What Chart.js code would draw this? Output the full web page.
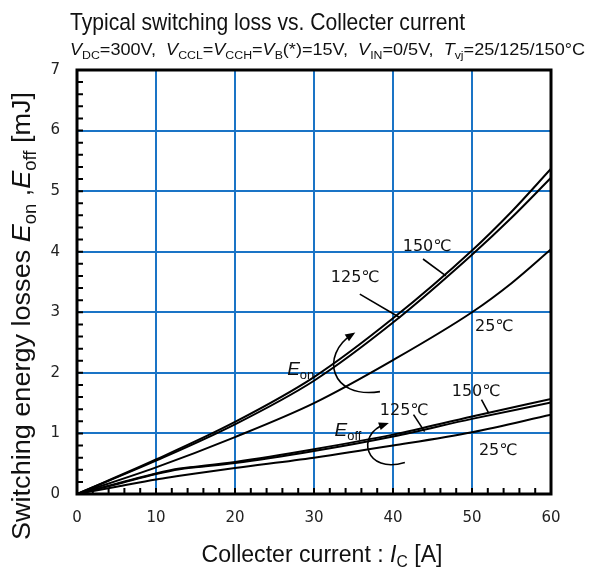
<!DOCTYPE html>
<html>
<head>
<meta charset="utf-8">
<script src="https://cdn.jsdelivr.net/npm/chart.js@4.4.1/dist/chart.umd.min.js"></script>
<style>
  html, body { margin: 0; padding: 0; background: #fff; }
  #wrap { width: 598px; height: 571px; }
</style>
</head>
<body>
<div id="wrap"><canvas id="myChart" width="598" height="571"></canvas></div>
<script>
// collector current [A] and switching energy [mJ]
const eonCurrent = [0, 10, 20, 30, 40, 50, 55, 60];
const eon150 = [0, 0.57, 1.19, 1.93, 2.90, 4.02, 4.66, 5.37];
const eon125 = [0, 0.55, 1.15, 1.87, 2.83, 3.95, 4.56, 5.22];
const eon25  = [0, 0.44, 0.94, 1.50, 2.21, 3.00, 3.48, 4.04];

const eoffCurrent = [0, 5, 10, 13, 15, 20, 30, 40, 50, 60];
const eoff150 = [0, 0.17, 0.34, 0.42, 0.45, 0.53, 0.74, 0.98, 1.28, 1.57];
const eoff125 = [0, 0.16, 0.33, 0.41, 0.44, 0.51, 0.71, 0.95, 1.24, 1.51];
const eoff25  = [0, 0.12, 0.24, 0.30, 0.34, 0.43, 0.60, 0.80, 1.02, 1.31];

const xTicks = [0, 10, 20, 30, 40, 50, 60];
const yTicks = [0, 1, 2, 3, 4, 5, 6, 7];

// temperature labels: [text, x, y] in data units, leader [x1, y1, x2, y2]
const tempLabels = [
  ['150℃', 44.3, 4.08, [43.8, 3.88, 46.7, 3.60]],
  ['125℃', 35.2, 3.57, [35.8, 3.30, 40.9, 2.91]],
  ['25℃', 52.8, 2.76, null],
  ['150℃', 50.5, 1.69, [51.2, 1.56, 52.1, 1.34]],
  ['125℃', 41.4, 1.37, [42.6, 1.31, 44.0, 1.03]],
  ['25℃', 53.3, 0.72, null]
];

const toXY = (xs, ys) => xs.map((x, i) => ({ x: x, y: ys[i] }));

function curve(data) {
  return {
    data: data,
    borderColor: '#000',
    borderWidth: 2,
    pointRadius: 0,
    fill: false,
    cubicInterpolationMode: 'monotone'
  };
}

// draws text made of pieces: {t, it, sub}; fitW stretches it to a given width
function richWidth(ctx, parts, size, fam) {
  let w = 0;
  parts.forEach(p => {
    const s = p.sub ? size * 0.68 : size;
    ctx.font = (p.it ? 'italic ' : '') + s + 'px ' + fam;
    w += ctx.measureText(p.t).width;
  });
  return w;
}
function drawRich(ctx, parts, x, y, size, fam, align, fitW, sy) {
  const w = richWidth(ctx, parts, size, fam);
  const sx = fitW ? fitW / w : 1;
  ctx.save();
  ctx.translate(align === 'center' ? x - w * sx / 2 : x, y);
  ctx.scale(sx, sy || 1);
  ctx.textAlign = 'left';
  ctx.textBaseline = 'alphabetic';
  let cx = 0;
  parts.forEach(p => {
    const s = p.sub ? size * 0.68 : size;
    ctx.font = (p.it ? 'italic ' : '') + s + 'px ' + fam;
    ctx.fillText(p.t, cx, p.sub ? size * 0.22 : 0);
    cx += ctx.measureText(p.t).width;
  });
  ctx.restore();
}

const sans = '"Liberation Sans", Arial, sans-serif';
const tickFont = '"DejaVu Sans", "Noto Sans CJK JP", sans-serif';

const decor = {
  id: 'decor',
  afterDraw(chart) {
    const ctx = chart.ctx;
    const xs = chart.scales.x, ys = chart.scales.y;
    const a = chart.chartArea;
    const px = v => xs.getPixelForValue(v);
    const py = v => ys.getPixelForValue(v);
    ctx.save();
    ctx.fillStyle = '#000';
    ctx.strokeStyle = '#000';

    // minor ticks, pointing inward
    ctx.lineWidth = 2;
    ctx.beginPath();
    for (let v = 2; v < 60; v += 2) {
      ctx.moveTo(px(v), a.bottom);
      ctx.lineTo(px(v), a.bottom - 6);
    }
    for (let k = 1; k < 35; k++) {
      const v = k * 0.2;
      ctx.moveTo(a.left, py(v));
      ctx.lineTo(a.left + 6, py(v));
    }
    ctx.stroke();

    // frame
    ctx.lineWidth = 3;
    ctx.strokeRect(a.left, a.top, a.right - a.left, a.bottom - a.top);

    // title + conditions
    ctx.fillStyle = '#111';
    drawRich(ctx, [{ t: 'Typical switching loss vs. Collecter current' }], 70, 30, 21.5, sans, 'left', 395, 1.08);
    drawRich(ctx, [
      { t: 'V', it: true }, { t: 'DC', sub: true }, { t: '=300V,  ' },
      { t: 'V', it: true }, { t: 'CCL', sub: true }, { t: '=' },
      { t: 'V', it: true }, { t: 'CCH', sub: true }, { t: '=' },
      { t: 'V', it: true }, { t: 'B', sub: true }, { t: '(*)=15V,  ' },
      { t: 'V', it: true }, { t: 'IN', sub: true }, { t: '=0/5V,  ' },
      { t: 'T', it: true }, { t: 'vj', sub: true }, { t: '=25/125/150°C' }
    ], 70, 55, 16.5, sans, 'left', 515);

    // axis titles
    drawRich(ctx, [{ t: 'Collecter current : ' }, { t: 'I', it: true }, { t: 'C', sub: true }, { t: ' [A]' }],
      322, 562, 23, sans, 'center', 241);
    ctx.save();
    ctx.translate(30, 316);
    ctx.rotate(-Math.PI / 2);
    drawRich(ctx, [
      { t: 'Switching energy losses ' }, { t: 'E', it: true }, { t: 'on', sub: true },
      { t: ' ,' }, { t: 'E', it: true }, { t: 'off', sub: true }, { t: ' [mJ]' }
    ], 0, 0, 26, sans, 'center', 448);
    ctx.restore();

    // temperature labels with leaders
    ctx.fillStyle = '#111';
    ctx.font = '16px ' + tickFont;
    ctx.textAlign = 'center';
    ctx.textBaseline = 'middle';
    ctx.lineWidth = 1.6;
    tempLabels.forEach(l => {
      ctx.fillText(l[0], px(l[1]), py(l[2]));
      if (l[3]) {
        ctx.beginPath();
        ctx.moveTo(px(l[3][0]), py(l[3][1]));
        ctx.lineTo(px(l[3][2]), py(l[3][3]));
        ctx.stroke();
      }
    });

    // Eon / Eoff group labels
    drawRich(ctx, [{ t: 'E', it: true }, { t: 'on', sub: true }], px(26.6), py(1.97), 19, sans, 'left');
    drawRich(ctx, [{ t: 'E', it: true }, { t: 'off', sub: true }], px(32.6), py(0.96), 19, sans, 'left');

    // curved arrows
    const arrows = [
      [38.35, 1.69, 32.0, 1.56, 30.8, 2.30, 34.8, 2.63],
      [41.5, 0.52, 36.5, 0.32, 35.2, 0.98, 39.0, 1.15]
    ];
    ctx.fillStyle = '#000';
    arrows.forEach(r => {
      const p = [];
      for (let i = 0; i < 8; i += 2) p.push([px(r[i]), py(r[i + 1])]);
      ctx.lineWidth = 1.6;
      ctx.beginPath();
      ctx.moveTo(p[0][0], p[0][1]);
      ctx.bezierCurveTo(p[1][0], p[1][1], p[2][0], p[2][1], p[3][0], p[3][1]);
      ctx.stroke();
      const ang = Math.atan2(p[3][1] - p[2][1], p[3][0] - p[2][0]);
      ctx.beginPath();
      ctx.moveTo(p[3][0] + 4 * Math.cos(ang), p[3][1] + 4 * Math.sin(ang));
      ctx.lineTo(p[3][0] - 6 * Math.cos(ang) - 4 * Math.sin(ang), p[3][1] - 6 * Math.sin(ang) + 4 * Math.cos(ang));
      ctx.lineTo(p[3][0] - 6 * Math.cos(ang) + 4 * Math.sin(ang), p[3][1] - 6 * Math.sin(ang) - 4 * Math.cos(ang));
      ctx.closePath();
      ctx.fill();
    });
    ctx.restore();
  }
};

const ctx = document.getElementById('myChart').getContext('2d');
new Chart(ctx, {
  type: 'line',
  data: {
    datasets: [
      curve(toXY(eonCurrent, eon150)),
      curve(toXY(eonCurrent, eon125)),
      curve(toXY(eonCurrent, eon25)),
      curve(toXY(eoffCurrent, eoff150)),
      curve(toXY(eoffCurrent, eoff125)),
      curve(toXY(eoffCurrent, eoff25))
    ]
  },
  options: {
    responsive: false,
    animation: false,
    devicePixelRatio: 1,
    layout: { padding: { top: 70, right: 47, left: 0, bottom: 0 } },
    plugins: { legend: { display: false }, tooltip: { enabled: false } },
    scales: {
      x: {
        type: 'linear', min: 0, max: 60,
        afterBuildTicks: s => { s.ticks = xTicks.map(v => ({ value: v })); },
        afterFit: s => { s.height = 77; },
        grid: { color: '#1a74c6', lineWidth: 2, drawTicks: false },
        border: { display: false },
        ticks: { color: '#222', font: { family: tickFont, size: 15 }, padding: 15, maxRotation: 0 }
      },
      y: {
        type: 'linear', min: 0, max: 7,
        afterBuildTicks: s => { s.ticks = yTicks.map(v => ({ value: v })); },
        afterFit: s => { s.width = 77; },
        grid: { color: '#1a74c6', lineWidth: 2, drawTicks: false },
        border: { display: false },
        ticks: { color: '#222', font: { family: tickFont, size: 15 }, padding: 17 }
      }
    }
  },
  plugins: [decor]
});
</script>
</body>
</html>
